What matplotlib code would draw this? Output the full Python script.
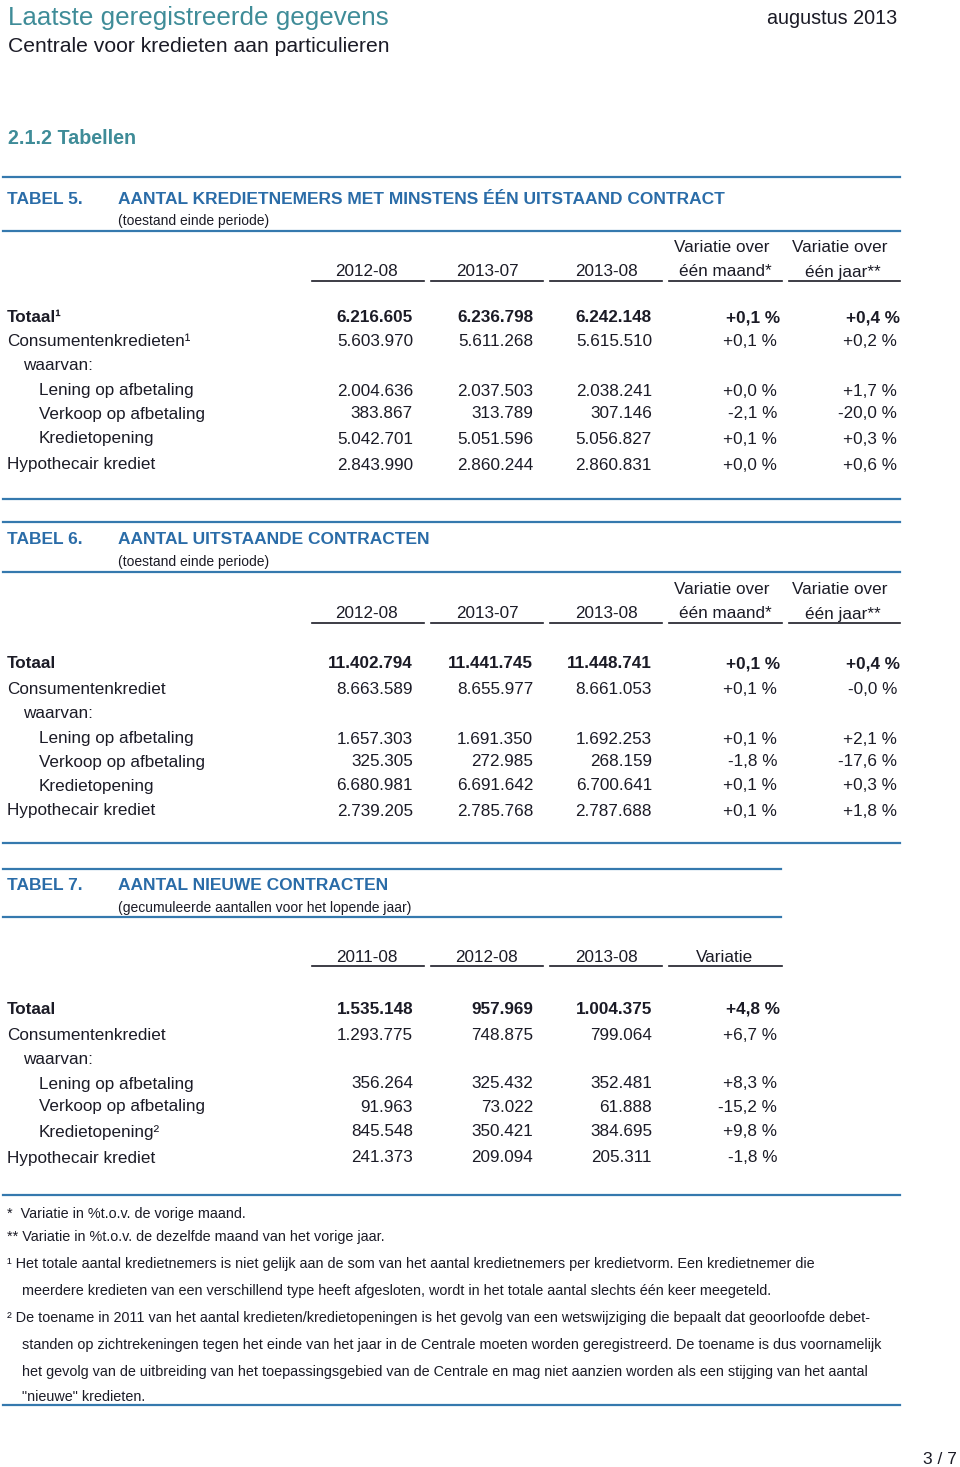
import matplotlib.pyplot as plt

plt.rcParams['font.family'] = ['Liberation Sans', 'DejaVu Sans']

# colours
TEAL = '#3f8c98'
BLUE = '#2a6ca8'
LINE = '#3579ae'
INK = '#1b1b26'

# table 5: kredietnemers
t5_cols = ['2012-08', '2013-07', '2013-08']
t5_labels = ['Totaal¹', 'Consumentenkredieten¹', 'waarvan:', 'Lening op afbetaling',
             'Verkoop op afbetaling', 'Kredietopening', 'Hypothecair krediet']
t5_2012_08 = [6216605, 5603970, None, 2004636, 383867, 5042701, 2843990]
t5_2013_07 = [6236798, 5611268, None, 2037503, 313789, 5051596, 2860244]
t5_2013_08 = [6242148, 5615510, None, 2038241, 307146, 5056827, 2860831]
t5_var_maand = [0.1, 0.1, None, 0.0, -2.1, 0.1, 0.0]
t5_var_jaar = [0.4, 0.2, None, 1.7, -20.0, 0.3, 0.6]

# table 6: uitstaande contracten
t6_labels = ['Totaal', 'Consumentenkrediet', 'waarvan:', 'Lening op afbetaling',
             'Verkoop op afbetaling', 'Kredietopening', 'Hypothecair krediet']
t6_2012_08 = [11402794, 8663589, None, 1657303, 325305, 6680981, 2739205]
t6_2013_07 = [11441745, 8655977, None, 1691350, 272985, 6691642, 2785768]
t6_2013_08 = [11448741, 8661053, None, 1692253, 268159, 6700641, 2787688]
t6_var_maand = [0.1, 0.1, None, 0.1, -1.8, 0.1, 0.1]
t6_var_jaar = [0.4, -0.0, None, 2.1, -17.6, 0.3, 1.8]

# table 7: nieuwe contracten
t7_cols = ['2011-08', '2012-08', '2013-08']
t7_labels = ['Totaal', 'Consumentenkrediet', 'waarvan:', 'Lening op afbetaling',
             'Verkoop op afbetaling', 'Kredietopening²', 'Hypothecair krediet']
t7_2011_08 = [1535148, 1293775, None, 356264, 91963, 845548, 241373]
t7_2012_08 = [957969, 748875, None, 325432, 73022, 350421, 209094]
t7_2013_08 = [1004375, 799064, None, 352481, 61888, 384695, 205311]
t7_variatie = [4.8, 6.7, None, 8.3, -15.2, 9.8, -1.8]

# (text, indented continuation line?)
footnotes = [
    ('*  Variatie in %t.o.v. de vorige maand.', False),
    ('** Variatie in %t.o.v. de dezelfde maand van het vorige jaar.', False),
    ('¹ Het totale aantal kredietnemers is niet gelijk aan de som van het aantal kredietnemers per kredietvorm. Een kredietnemer die', False),
    ('meerdere kredieten van een verschillend type heeft afgesloten, wordt in het totale aantal slechts één keer meegeteld.', True),
    ('² De toename in 2011 van het aantal kredieten/kredietopeningen is het gevolg van een wetswijziging die bepaalt dat geoorloofde debet-', False),
    ('standen op zichtrekeningen tegen het einde van het jaar in de Centrale moeten worden geregistreerd. De toename is dus voornamelijk', True),
    ('het gevolg van de uitbreiding van het toepassingsgebied van de Centrale en mag niet aanzien worden als een stijging van het aantal', True),
    ('"nieuwe" kredieten.', True),
]


def num(v):
    return '' if v is None else f'{v:,}'.replace(',', '.')


def pct(v):
    return '' if v is None else f'{v:+.1f} %'.replace('.', ',')


fig = plt.figure(figsize=(9.6, 14.67), dpi=100)
ax = fig.add_axes([0, 0, 1, 1])
ax.set_xlim(0, 960)
ax.set_ylim(1467, 0)
ax.axis('off')

DY = 2  # text sits a bit high with va='center'


def txt(x, y, s, **kw):
    kw.setdefault('color', INK)
    kw.setdefault('va', 'center')
    return ax.text(x, y + DY, s, **kw)


# page header
txt(8, 16, 'Laatste geregistreerde gegevens', fontsize=18.7, color=TEAL)
txt(897, 17, 'augustus 2013', fontsize=14.2, ha='right')
txt(8, 45, 'Centrale voor kredieten aan particulieren', fontsize=15.2)
txt(8, 136, '2.1.2 Tabellen', fontsize=14.2, color=TEAL, weight='bold')

col_c = [367, 487, 606, 725, 843]
col_r = [413, 533, 652, 777, 897]
seg = [(312, 424), (431, 543), (550, 662), (669, 782), (789, 900)]
indent = [7, 7, 23, 39, 39, 39, 7]


def table(ys, rows_y, nr, title, sub, heads, cols, labels, right=900):
    top, ty, sy, ly, vy, hy, uy = ys
    ax.plot([3, right], [top, top], color=LINE, lw=1.6)
    txt(7, ty, f'TABEL {nr}.', fontsize=12.5, color=BLUE, weight='bold')
    txt(118, ty, title, fontsize=12.5, color=BLUE, weight='bold')
    txt(118, sy - 2, sub, fontsize=10.0)
    ax.plot([3, right], [ly, ly], color=LINE, lw=1.6)
    for i, h in enumerate(heads):
        lines = h.split('\n')
        if len(lines) == 2:
            txt(col_c[i] - 3, vy, lines[0], fontsize=12.3, ha='center')
        txt(col_c[i], hy, lines[-1], fontsize=12.3, ha='center')
        ax.plot(seg[i], [uy, uy], color=INK, lw=1.2)
    for r, lab in enumerate(labels):
        bold = 'bold' if r == 0 else 'normal'
        txt(indent[r], rows_y[r], lab, fontsize=12.3, weight=bold)
        for c, vals in enumerate(cols):
            s = num(vals[r]) if c < 3 else pct(vals[r])
            txt(col_r[c] + (3 if (r == 0 and c >= 3) else 0), rows_y[r], s,
                fontsize=12.3, ha='right', weight=bold)


table([177, 197, 221, 231, 245, 270, 281], [316, 340, 363, 389, 412, 437, 463],
      5, 'AANTAL KREDIETNEMERS MET MINSTENS ÉÉN UITSTAAND CONTRACT', '(toestand einde periode)',
      t5_cols + ['Variatie over\néén maand*', 'Variatie over\néén jaar**'],
      [t5_2012_08, t5_2013_07, t5_2013_08, t5_var_maand, t5_var_jaar], t5_labels)
ax.plot([3, 900], [499, 499], color=LINE, lw=1.6)

table([522, 538, 562, 572, 587, 612, 623], [662, 688, 711, 737, 760, 784, 809],
      6, 'AANTAL UITSTAANDE CONTRACTEN', '(toestand einde periode)',
      t5_cols + ['Variatie over\néén maand*', 'Variatie over\néén jaar**'],
      [t6_2012_08, t6_2013_07, t6_2013_08, t6_var_maand, t6_var_jaar], t6_labels)
ax.plot([3, 900], [843, 843], color=LINE, lw=1.6)

table([869, 884, 908, 917, 931, 956, 966], [1007, 1033, 1058, 1082, 1105, 1130, 1156],
      7, 'AANTAL NIEUWE CONTRACTEN', '(gecumuleerde aantallen voor het lopende jaar)',
      t7_cols + ['Variatie'],
      [t7_2011_08, t7_2012_08, t7_2013_08, t7_variatie], t7_labels, right=781)

# footnotes
ax.plot([3, 900], [1195, 1195], color=LINE, lw=1.6)
fy = [1212, 1235, 1262, 1289, 1316, 1343, 1370, 1395]
for y, (s, cont) in zip(fy, footnotes):
    txt(22 if cont else 7, y, s, fontsize=10.4)
ax.plot([3, 900], [1405, 1405], color=LINE, lw=1.6)

txt(957, 1458, '3 / 7', fontsize=12.5, ha='right')

fig.savefig('out.png', dpi=100)
